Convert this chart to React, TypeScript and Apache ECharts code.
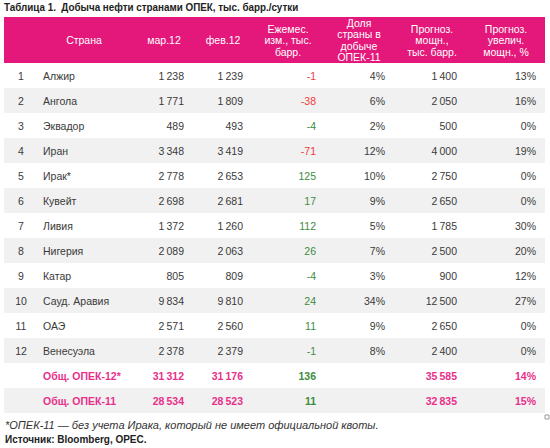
import React, { useEffect, useRef } from "react";
import * as echarts from "echarts";

const rowNums = ["1", "2", "3", "4", "5", "6", "7", "8", "9", "10", "11", "12", "", ""];
const countries = ["Алжир", "Ангола", "Эквадор", "Иран", "Ирак*", "Кувейт", "Ливия", "Нигерия", "Катар", "Сауд. Аравия", "ОАЭ", "Венесуэла", "Общ. ОПЕК-12*", "Общ. ОПЕК-11"];
const mar12 = [1238, 1771, 489, 3348, 2778, 2698, 1372, 2089, 805, 9834, 2571, 2378, 31312, 28534];
const feb12 = [1239, 1809, 493, 3419, 2653, 2681, 1260, 2063, 809, 9810, 2560, 2379, 31176, 28523];
const monthlyChange = [-1, -38, -4, -71, 125, 17, 112, 26, -4, 24, 11, -1, 136, 11];
const changeTone = ["r", "r", "g", "r", "g", "g", "g", "g", "g", "g", "g", "g", "g", "g"];
const sharePct: (number | null)[] = [4, 6, 2, 12, 10, 9, 5, 7, 3, 34, 9, 8, null, null];
const forecastCap = [1400, 2050, 500, 4000, 2750, 2650, 1785, 2500, 900, 12500, 2650, 2400, 35585, 32835];
const forecastGrowth = [13, 16, 0, 19, 0, 0, 30, 20, 12, 27, 0, 0, 14, 15];
const totalRows = [false, false, false, false, false, false, false, false, false, false, false, false, true, true];

const headers = ["Страна", "мар.12", "фев.12", "Ежемес.\nизм., тыс.\nбарр.", "Доля\nстраны в\nдобыче\nОПЕК-11", "Прогноз.\nмощн.,\nтыс. барр.", "Прогноз.\nувелич.\nмощн., %"];
const title = "Таблица 1.  Добыча нефти странами ОПЕК, тыс. барр./сутки";
const footnote = "*ОПЕК-11 — без учета Ирака, который не имеет официальной квоты.";
const source = "Источник: Bloomberg, OPEC.";

const PINK = "#E3187A";
const PINK_TEXT = "#E8308A";
const GREEN = "#3C8C3C";
const RED = "#F23A3A";
const BODY = "#3A3A3A";
const FONT = "'Liberation Sans', Arial, sans-serif";

const fmt = (v: number) => {
  const s = String(Math.abs(v));
  const out = s.replace(/\B(?=(\d{3})+(?!\d))/g, "\u2009");
  return (v < 0 ? "-" : "") + out;
};

export default function App() {
  const ref = useRef<HTMLDivElement>(null);
  useEffect(() => {
    if (!ref.current) return;
    const chart = echarts.init(ref.current, null, { renderer: "svg" });
    const rowIdx = countries.map((_, i) => String(i));

    // column anchors (axis units; grid left = 4)
    const cNum = 17, cName = 39, cMar = 180, cFeb = 239, cChg = 312, cShare = 381, cFc = 453, cGr = 532;

    const renderItem = (params: any, api: any) => {
      const i = api.value(1);
      const c = api.coord([0, i]);
      const sz = api.size([0, 1]);
      const rowH = sz[1];
      const y = c[1];
      const X = (v: number) => api.coord([v, i])[0];
      const tot = totalRows[i];
      const children: any[] = [];
      if (i % 2 === 1) {
        children.push({
          type: "rect",
          shape: { x: X(0), y: y - rowH / 2, width: X(541) - X(0), height: rowH },
          style: { fill: "#F1F1F1" },
        });
      }
      const txt = (t: string, x: number, align: string, color: string, bold: boolean) => ({
        type: "text",
        style: {
          text: t, x, y, align, verticalAlign: "middle", fill: color,
          font: `${bold ? "bold " : ""}10.5px ${FONT}`,
        },
      });
      children.push(txt(rowNums[i], X(cNum), "center", BODY, false));
      children.push(txt(countries[i], X(cName), "left", tot ? PINK_TEXT : BODY, tot));
      children.push(txt(fmt(mar12[i]), X(cMar), "right", tot ? PINK_TEXT : BODY, tot));
      children.push(txt(fmt(feb12[i]), X(cFeb), "right", tot ? PINK_TEXT : BODY, tot));
      children.push(txt(fmt(monthlyChange[i]), X(cChg), "right", changeTone[i] === "r" ? RED : GREEN, tot));
      const sp = sharePct[i];
      if (sp !== null) children.push(txt(sp + "%", X(cShare), "right", BODY, false));
      children.push(txt(fmt(forecastCap[i]), X(cFc), "right", tot ? PINK_TEXT : BODY, tot));
      children.push(txt(forecastGrowth[i] + "%", X(cGr), "right", tot ? PINK_TEXT : BODY, tot));
      return { type: "group", children };
    };

    const headerX = [84, 164, 223, 288, 359, 432, 506];
    const graphics: any[] = [
      {
        type: "text", x: 4, y: 7, scaleX: 0.895, originX: 0, originY: 0,
        style: { text: title, verticalAlign: "middle", font: `bold 11px ${FONT}`, fill: "#222" },
      },
      { type: "rect", shape: { x: 4, y: 17, width: 541, height: 46 }, style: { fill: PINK } },
      ...headers.map((h, k) => ({
        type: "text", x: headerX[k], y: 40,
        style: {
          text: h, align: "center", verticalAlign: "middle", fill: "#fff",
          font: `10.5px ${FONT}`, lineHeight: 11.5,
        },
      })),
      {
        type: "text", x: 5, y: 425,
        style: { text: footnote, verticalAlign: "middle", fill: "#333", font: `italic 11px ${FONT}` },
      },
      {
        type: "text", x: 5, y: 439, scaleX: 0.95, originX: 0, originY: 0,
        style: { text: source, verticalAlign: "middle", fill: "#222", font: `bold 10.5px ${FONT}` },
      },
      { type: "rect", shape: { x: 545, y: 415, width: 4, height: 4 }, style: { fill: "#fff", stroke: "#999", lineWidth: 1 } },
    ];

    chart.setOption({
      animation: false,
      grid: { left: 4, top: 63, width: 541, height: 350 },
      xAxis: { type: "value", min: 0, max: 541, show: false },
      yAxis: { type: "category", data: rowIdx, inverse: true, show: false },
      series: [
        {
          type: "custom",
          renderItem,
          encode: { x: 0, y: 1 },
          data: countries.map((_, i) => [0, i]),
          silent: true,
        },
      ],
      graphic: graphics,
    });
    return () => chart.dispose();
  }, []);
  return <div ref={ref} style={{ width: 550, height: 448, position: "absolute", left: 0, top: 0 }} />;
}
